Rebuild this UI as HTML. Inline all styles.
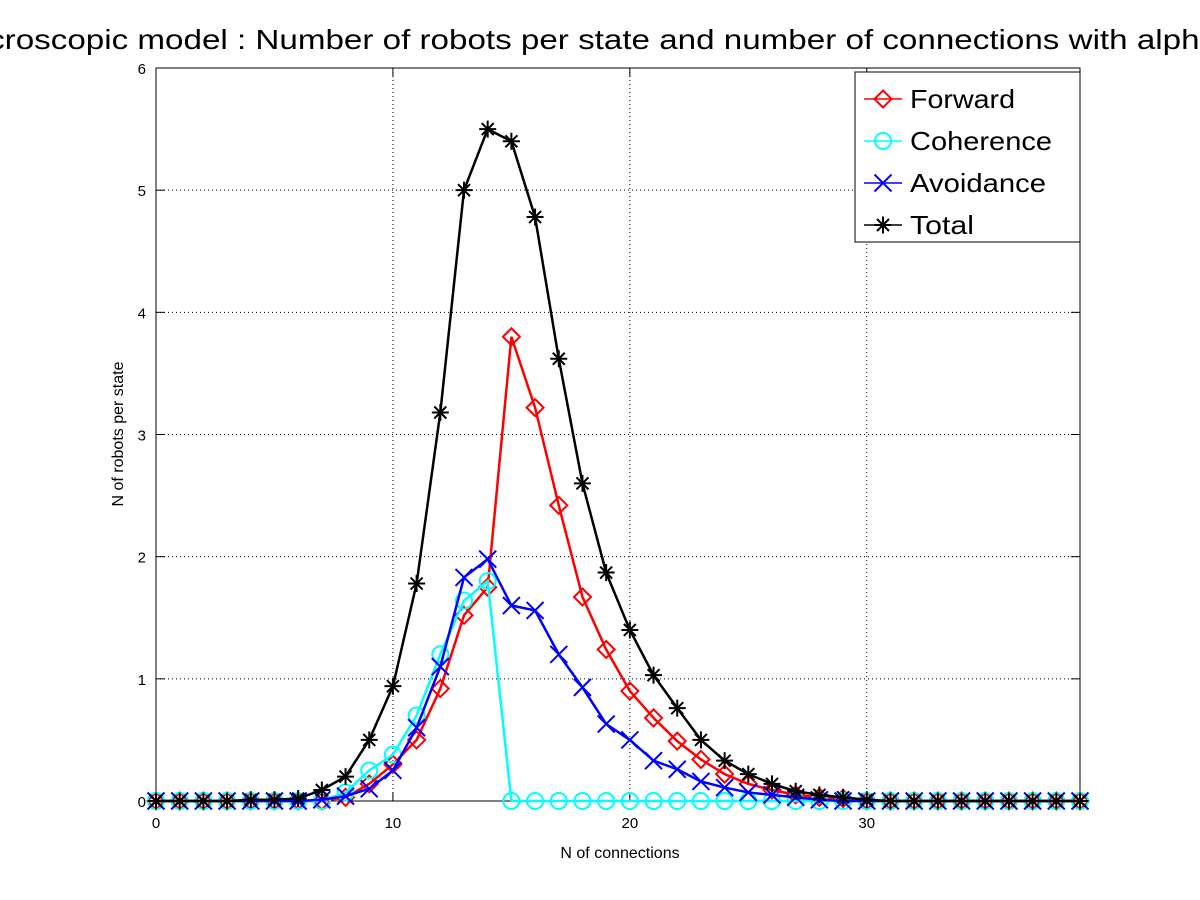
<!DOCTYPE html>
<html><head><meta charset="utf-8"><style>html,body{margin:0;padding:0;background:#fff}svg{display:block;font-family:"Liberation Sans",sans-serif}</style></head>
<body>
<svg id="chart" width="1200" height="900" viewBox="0 0 1200 900">
<rect width="1200" height="900" fill="#fff"/>
<text x="-58" y="49" font-size="28" textLength="1276" lengthAdjust="spacingAndGlyphs">Macroscopic model : Number of robots per state and number of connections with alpha</text>
<g id="grid"></g>
<g id="axes"></g>
<g id="series"></g>
<text x="620" y="858" font-size="16" text-anchor="middle">N of connections</text>
<text transform="translate(123,434) rotate(-90)" font-size="16" text-anchor="middle">N of robots per state</text>
<g id="legend"></g>
</svg>
<script>
const xTicks = [0, 10, 20, 30];
const yTicks = [0, 1, 2, 3, 4, 5, 6];
const total = [0,0,0,0,0.01,0.01,0.02,0.09,0.2,0.5,0.94,1.78,3.18,5.0,5.5,5.4,4.78,3.62,2.6,1.87,1.4,1.03,0.76,0.5,0.33,0.22,0.14,0.08,0.05,0.03,0.01,0,0,0,0,0,0,0,0,0];
const forward = [0,0,0,0,0,0,0,0,0.03,0.14,0.3,0.5,0.92,1.52,1.75,3.8,3.22,2.42,1.67,1.24,0.9,0.68,0.49,0.34,0.22,0.14,0.09,0.05,0.03,0.02,0,0,0,0,0,0,0,0,0,0];
const coherence = [0,0,0,0,0,0,0,0,0.07,0.25,0.38,0.7,1.2,1.64,1.8,0,0,0,0,0,0,0,0,0,0,0,0,0,0,0,0,0,0,0,0,0,0,0,0,0];
const avoidance = [0,0,0,0,0,0,0,0.01,0.04,0.1,0.25,0.6,1.1,1.83,1.98,1.6,1.56,1.2,0.93,0.63,0.5,0.33,0.26,0.16,0.11,0.07,0.05,0.03,0.01,0,0,0,0,0,0,0,0,0,0,0];
const seriesNames = ["Forward","Coherence","Avoidance","Total"];

const L=156,R=1080,T=68,B=801,XMAX=39,YMAX=6;
const sx=v=>L+v*(R-L)/XMAX, sy=v=>B-v*(B-T)/YMAX;
const NS="http://www.w3.org/2000/svg";
function mk(tag,attrs,parent){const e=document.createElementNS(NS,tag);for(const k in attrs)e.setAttribute(k,attrs[k]);parent.appendChild(e);return e;}
const grid=document.getElementById('grid'),axes=document.getElementById('axes'),ser=document.getElementById('series'),leg=document.getElementById('legend');
xTicks.forEach(t=>{
  const g=mk('line',{x1:sx(t),x2:sx(t),y1:T,y2:B,stroke:'#000','stroke-width':1,'stroke-dasharray':'1,3'},grid);
  
  mk('line',{x1:sx(t),x2:sx(t),y1:B,y2:B-9,stroke:'#000'},axes);
  mk('line',{x1:sx(t),x2:sx(t),y1:T,y2:T+9,stroke:'#000'},axes);
  const tx=mk('text',{x:sx(t),y:B+27,'font-size':15,'text-anchor':'middle'},axes);tx.textContent=t;
  
});
yTicks.forEach(t=>{
  const g=mk('line',{x1:L,x2:R,y1:sy(t),y2:sy(t),stroke:'#000','stroke-width':1,'stroke-dasharray':'1,3'},grid);
  
  mk('line',{x1:L,x2:L+9,y1:sy(t),y2:sy(t),stroke:'#000'},axes);
  mk('line',{x1:R,x2:R-9,y1:sy(t),y2:sy(t),stroke:'#000'},axes);
  const tx=mk('text',{x:L-10,y:sy(t)+6,'font-size':15,'text-anchor':'end'},axes);tx.textContent=t;
  
});
const box=mk('rect',{x:L,y:T,width:R-L,height:B-T,fill:'none',stroke:'#000'},axes);


function marker(type,x,y,color,parent){
  const g=mk('g',{stroke:color,'stroke-width':2,fill:'none'},parent);
  const s=8.5;
  if(type==='d') mk('polygon',{points:`${x},${y-s} ${x+s},${y} ${x},${y+s} ${x-s},${y}`},g);
  else if(type==='o') mk('circle',{cx:x,cy:y,r:8},g);
  else if(type==='x'){mk('line',{x1:x-s,y1:y-s,x2:x+s,y2:y+s},g);mk('line',{x1:x-s,y1:y+s,x2:x+s,y2:y-s},g);}
  else {mk('line',{x1:x-s,y1:y,x2:x+s,y2:y},g);mk('line',{x1:x,y1:y-s,x2:x,y2:y+s},g);
    mk('line',{x1:x-6,y1:y-6,x2:x+6,y2:y+6},g);mk('line',{x1:x-6,y1:y+6,x2:x+6,y2:y-6},g);}
  return g;
}
const defs=[[forward,'#ff0000','d','forward'],[coherence,'#00ffff','o','coherence'],[avoidance,'#0000ff','x','avoidance'],[total,'#000000','*','total']];
defs.forEach(([d,c,m,n])=>{
  const g=mk('g',{},ser);
  
  const pl=mk('polyline',{points:d.map((v,i)=>sx(i)+','+sy(v)).join(' '),fill:'none',stroke:c,'stroke-width':2.5},g);
  
  d.forEach((v,i)=>{const mm=marker(m,sx(i),sy(v),c,g);
    });
});
const lb=mk('rect',{x:855,y:72,width:225,height:170,fill:'#fff',stroke:'#000'},leg);

const legW=[105,142,136,64];
defs.forEach(([d,c,m,n],i)=>{
  const y=99+i*42;
  const g=mk('g',{},leg);
  
  mk('line',{x1:864,x2:902,y1:y,y2:y,stroke:c,'stroke-width':1.5},g);
  marker(m,883,y,c,g);
  const t=mk('text',{x:910,y:y+9,'font-size':26,textLength:legW[i],lengthAdjust:'spacingAndGlyphs'},g);t.textContent=seriesNames[i];
});
</script>
</body></html>
